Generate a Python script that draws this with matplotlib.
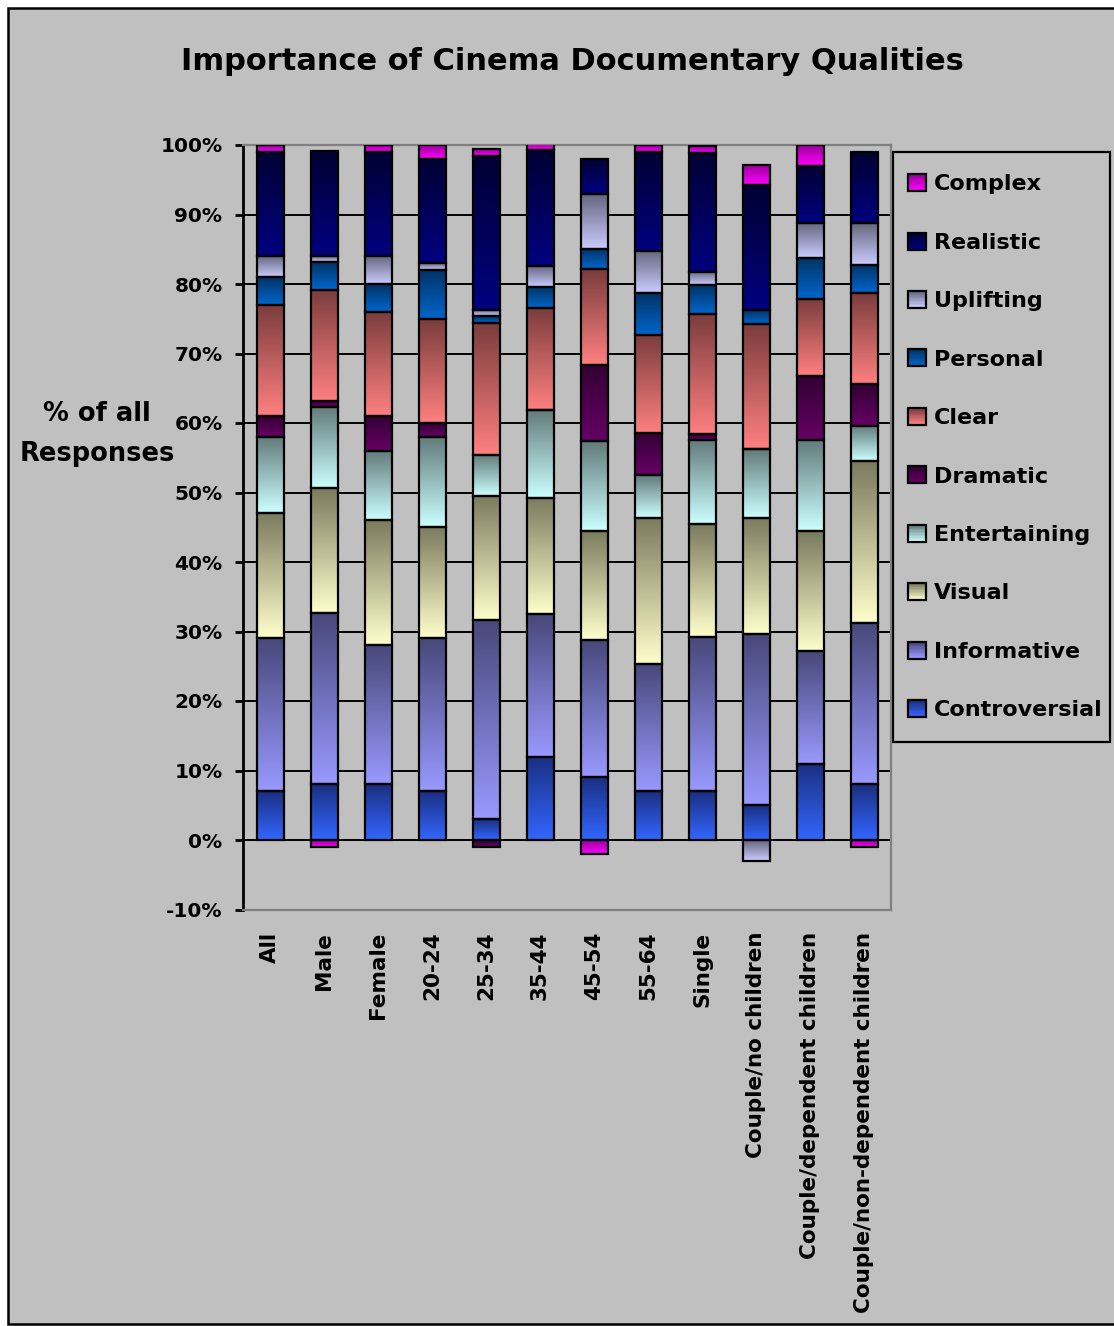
import numpy as np
import matplotlib
matplotlib.use('Agg')
import matplotlib.pyplot as plt
from matplotlib.colors import LinearSegmentedColormap
from matplotlib.patches import Rectangle
from matplotlib.legend_handler import HandlerBase

categories = ['All', 'Male', 'Female', '20-24', '25-34', '35-44', '45-54', '55-64',
              'Single', 'Couple/no children', 'Couple/dependent children',
              'Couple/non-dependent children']

# values in % (stack order bottom -> top)
controversial = [7, 8, 8, 7, 3, 12, 9, 7, 7, 5, 11, 8]
informative = [22, 24.7, 20, 22, 28.6, 20.5, 19.8, 18.3, 22.2, 24.7, 16.2, 23.2]
visual = [18, 17.9, 18, 16, 17.9, 16.7, 15.7, 21.1, 16.2, 16.7, 17.2, 23.3]
entertaining = [11, 11.7, 10, 13, 5.9, 12.7, 12.9, 6.1, 12.1, 9.9, 13.2, 5.1]
dramatic = [3, 0.9, 5, 2, -1, 0, 11, 6, 0.9, 0, 9.1, 6]
clear = [16, 16, 15, 15, 19, 14.7, 13.8, 14.2, 17.3, 18, 11.1, 13.1]
personal = [4, 4, 4, 7, 1, 3, 2.9, 6, 4.1, 2, 6, 4.1]
uplifting = [3, 0.8, 4, 1, 0.9, 3, 7.9, 6.1, 1.9, -3, 5, 6]
realistic = [15, 15.1, 15, 15, 22.1, 16.7, 5, 14.2, 17.2, 17.9, 8.2, 10.2]
complex_ = [1, -1, 1, 2, 1, 1, -2, 1, 1, 2.9, 3, -1]

series_names = ['Controversial', 'Informative', 'Visual', 'Entertaining', 'Dramatic',
                'Clear', 'Personal', 'Uplifting', 'Realistic', 'Complex']
series_values = [controversial, informative, visual, entertaining, dramatic,
                 clear, personal, uplifting, realistic, complex_]
# gradient colours (top dark, bottom light)
series_colors = [('#1a2f80', '#3366ff'), ('#48487a', '#9999ff'), ('#7a7a5e', '#ffffcc'),
                 ('#627a7a', '#ccffff'), ('#330033', '#660066'), ('#7a3c3c', '#ff8080'),
                 ('#003366', '#0066cc'), ('#66667f', '#ccccff'), ('#000033', '#000080'),
                 ('#990099', '#ff00ff')]

BG = '#c0c0c0'
plt.rcParams['font.family'] = 'DejaVu Sans'
plt.rcParams['font.weight'] = 'bold'

fig = plt.figure(figsize=(11.14, 13.26), dpi=100, facecolor='white')
# chart area frame
fig.patches.append(Rectangle((8 / 1114, 2 / 1326), 1.1, 1 - 10 / 1326, transform=fig.transFigure,
                             facecolor=BG, edgecolor='black', linewidth=1.8, zorder=-10))
# legend frame
fig.patches.append(Rectangle((893 / 1114, 1 - 742 / 1326), 217 / 1114, 590 / 1326,
                             transform=fig.transFigure, facecolor=BG, edgecolor='black',
                             linewidth=1.6, zorder=-5))

ax = fig.add_axes([243 / 1114, 1 - 909.5 / 1326, 648 / 1114, 764.5 / 1326])
ax.set_facecolor(BG)

x = np.arange(len(categories))
pos_base = np.zeros(len(categories))
neg_base = np.zeros(len(categories))
grad = np.linspace(0, 1, 256)[:, None]
for name, vals, (c_top, c_bot) in zip(series_names, series_values, series_colors):
    vals = np.array(vals, dtype=float)
    bottoms = np.where(vals >= 0, pos_base, neg_base)
    bars = ax.bar(x, vals, 0.5, bottom=bottoms, facecolor='none', edgecolor='black',
                  linewidth=1.6, zorder=4)
    cmap = LinearSegmentedColormap.from_list(name, [c_top, c_bot])
    for b in bars:
        h = b.get_height()
        if h == 0:
            continue
        y0, y1 = sorted([b.get_y(), b.get_y() + h])
        ax.imshow(grad, cmap=cmap, aspect='auto', origin='upper', zorder=3,
                  extent=[b.get_x(), b.get_x() + b.get_width(), y0, y1])
    pos_base = pos_base + np.where(vals > 0, vals, 0)
    neg_base = neg_base + np.where(vals < 0, vals, 0)

ax.set_xlim(-0.5, len(categories) - 0.5)
ax.set_ylim(-10, 100)
ax.set_yticks(np.arange(-10, 101, 10))
ax.set_yticklabels([f'{v}%' for v in range(-10, 101, 10)])
ax.yaxis.grid(True, color='black', linewidth=1.4, zorder=1)
ax.set_axisbelow(True)
ax.set_xticks(x)
ax.set_xticklabels(categories, rotation=90, va='top', ha='center')
ax.tick_params(axis='x', length=0, pad=16, labelsize=15.5)
ax.tick_params(axis='y', length=5.8, width=2, pad=9, labelsize=14.5, direction='out')
for s in ['top', 'right', 'bottom']:
    ax.spines[s].set_color('#808080')
    ax.spines[s].set_linewidth(1.6)
ax.spines['left'].set_color('black')
ax.spines['left'].set_linewidth(2)

fig.text(572 / 1114, 1 - 62 / 1326, 'Importance of Cinema Documentary Qualities',
         ha='center', va='center', fontsize=22, fontweight='bold')
fig.text(97 / 1114, 1 - 434 / 1326, '% of all\nResponses', ha='center', va='center',
         fontsize=18.5, fontweight='bold', linespacing=1.7)


class GradientHandler(HandlerBase):
    def create_artists(self, legend, orig_handle, xdescent, ydescent, width, height,
                       fontsize, trans):
        c_top, c_bot = orig_handle.colors
        cmap = LinearSegmentedColormap.from_list('h', [c_top, c_bot])
        n = 12
        arts = []
        for i in range(n):
            arts.append(Rectangle((-xdescent, -ydescent + height * (n - 1 - i) / n),
                                  width, height / n, facecolor=cmap(i / (n - 1)),
                                  edgecolor='none', transform=trans))
        arts.append(Rectangle((-xdescent, -ydescent), width, height, facecolor='none',
                              edgecolor='black', linewidth=1.6, transform=trans))
        return arts


class GradProxy:
    def __init__(self, colors):
        self.colors = colors


handles = [GradProxy(c) for c in series_colors][::-1]
labels = series_names[::-1]
leg = ax.legend(handles, labels, handler_map={GradProxy: GradientHandler()},
                loc='upper left', bbox_to_anchor=(893 / 1114, 1 - 159 / 1326),
                bbox_transform=fig.transFigure, fontsize=16, frameon=False,
                labelspacing=1.72, handlelength=0.8, handleheight=0.8,
                handletextpad=0.36, borderpad=0.68, borderaxespad=0)
for t in leg.get_texts():
    t.set_fontweight('bold')

fig.savefig('out.png', dpi=100, facecolor='white')
